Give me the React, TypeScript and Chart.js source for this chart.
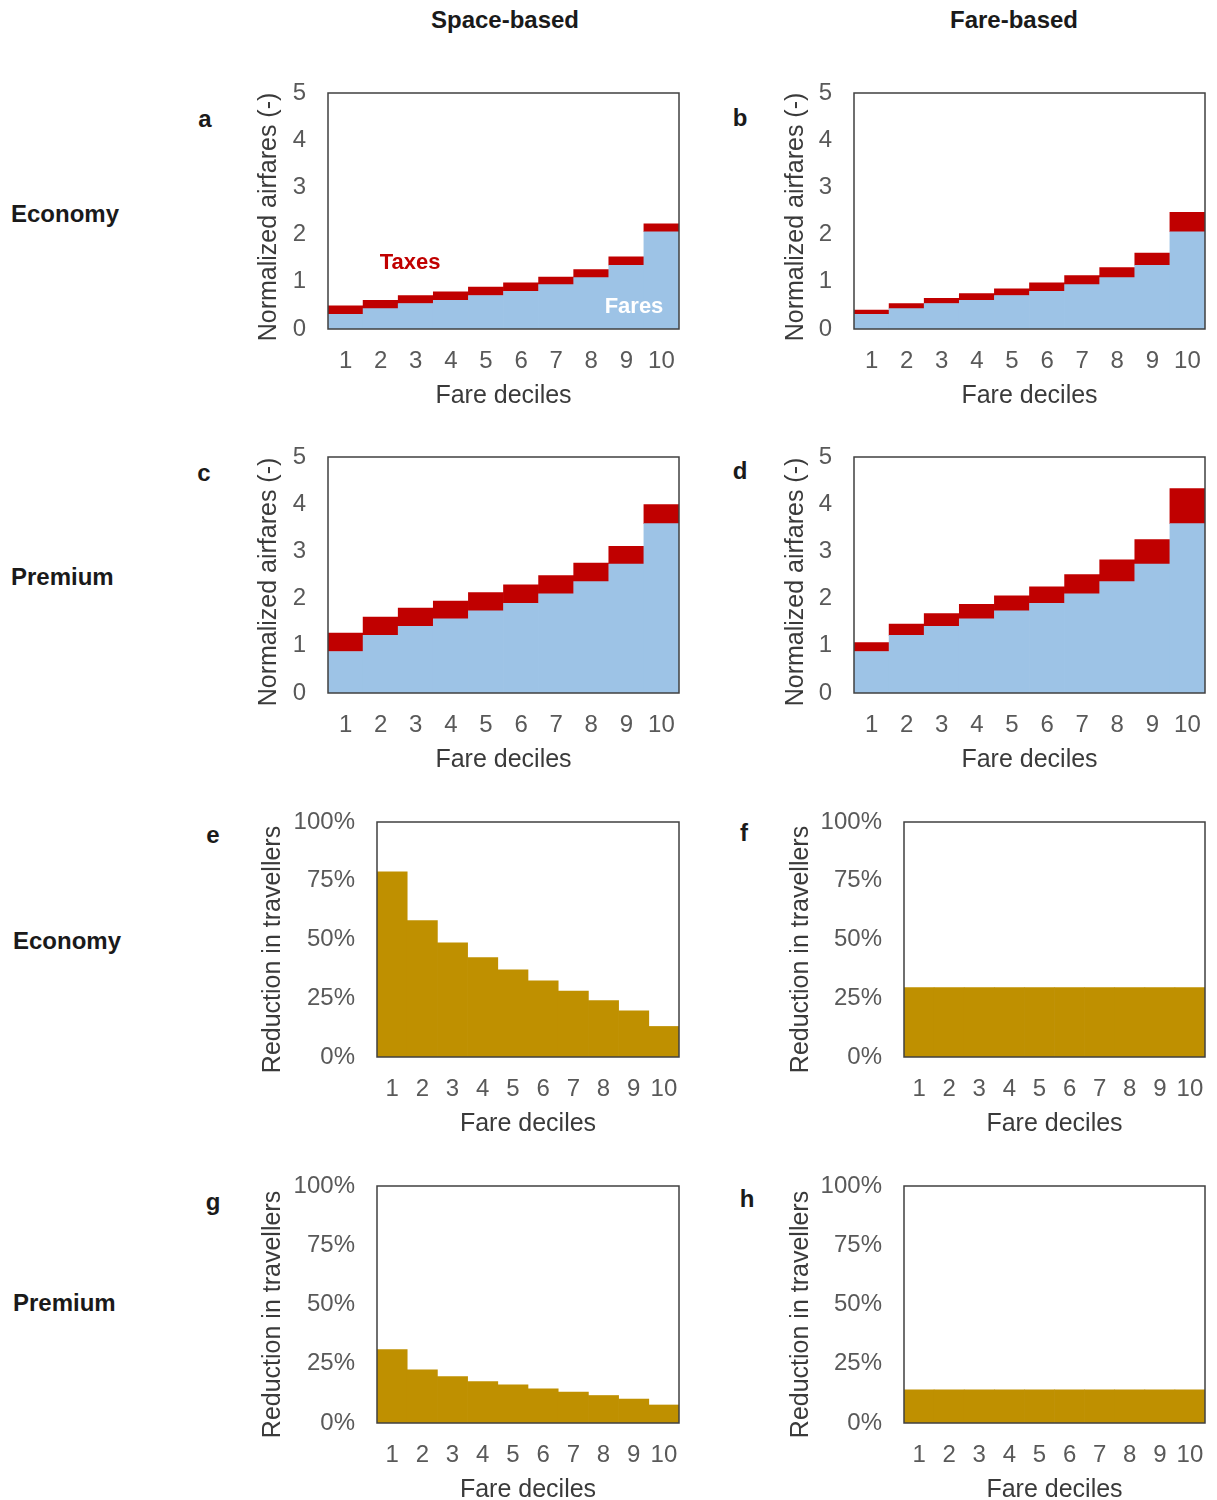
import React, { useEffect, useRef } from "react";
import { Chart, registerables } from "chart.js";

Chart.register(...registerables);
Chart.defaults.font.family = "'Liberation Sans', Arial, Helvetica, sans-serif";

// ---------- data ----------
const deciles = ["1", "2", "3", "4", "5", "6", "7", "8", "9", "10"];

const economyFares = [0.31, 0.43, 0.54, 0.61, 0.71, 0.8, 0.94, 1.09, 1.35, 2.06];
const economyTaxesSpace = [0.18, 0.18, 0.17, 0.18, 0.18, 0.18, 0.16, 0.17, 0.18, 0.17];
const economyTaxesFare = [0.09, 0.11, 0.11, 0.14, 0.14, 0.18, 0.19, 0.21, 0.26, 0.41];

const premiumFares = [0.88, 1.22, 1.41, 1.57, 1.74, 1.9, 2.1, 2.36, 2.73, 3.59];
const premiumTaxesSpace = [0.39, 0.39, 0.39, 0.38, 0.39, 0.39, 0.39, 0.39, 0.38, 0.4];
const premiumTaxesFare = [0.19, 0.24, 0.27, 0.31, 0.32, 0.35, 0.41, 0.46, 0.52, 0.74];

const reductionEconomySpace = [78.8, 58.0, 48.6, 42.3, 37.1, 32.4, 28.1, 24.0, 19.7, 13.0];
const reductionEconomyFare = [29.5, 29.5, 29.5, 29.5, 29.5, 29.5, 29.5, 29.5, 29.5, 29.5];
const reductionPremiumSpace = [31.0, 22.4, 19.6, 17.5, 16.1, 14.4, 13.0, 11.6, 10.1, 7.6];
const reductionPremiumFare = [14.0, 14.0, 14.0, 14.0, 14.0, 14.0, 14.0, 14.0, 14.0, 14.0];

const fareTicks = [0, 1, 2, 3, 4, 5];
const pctTicks = [0, 25, 50, 75, 100];

const columnHeaders = ["Space-based", "Fare-based"];
const rowLabels = ["Economy", "Premium", "Economy", "Premium"];
const fareAxisTitle = "Normalized airfares (-)";
const pctAxisTitle = "Reduction in travellers";
const xAxisTitle = "Fare deciles";

// ---------- styles ----------
const FARE_BLUE = "#9DC3E6";
const TAX_RED = "#C00000";
const GOLD = "#BF9000";
const TITLE_COLOR = "#3a3a3a";
const TICK_COLOR = "#595959";
const FONT = "'Liberation Sans', Arial, Helvetica, sans-serif";

type PanelCfg = {
  letter: string;
  kind: "fare" | "pct";
  series: { data: number[]; color: string }[];
  plot: { l: number; r: number; t: number; b: number };
  titleCx: number;
  titleDy: number;
  letterPos: [number, number];
};

const panels: PanelCfg[] = [
  {
    letter: "a", kind: "fare",
    series: [{ data: economyFares, color: FARE_BLUE }, { data: economyTaxesSpace, color: TAX_RED }],
    plot: { l: 328, r: 679, t: 93, b: 329 }, titleCx: 269, titleDy: 6, letterPos: [205, 119],
  },
  {
    letter: "b", kind: "fare",
    series: [{ data: economyFares, color: FARE_BLUE }, { data: economyTaxesFare, color: TAX_RED }],
    plot: { l: 854, r: 1205, t: 93, b: 329 }, titleCx: 796, titleDy: 6, letterPos: [740, 118],
  },
  {
    letter: "c", kind: "fare",
    series: [{ data: premiumFares, color: FARE_BLUE }, { data: premiumTaxesSpace, color: TAX_RED }],
    plot: { l: 328, r: 679, t: 457, b: 693 }, titleCx: 269, titleDy: 7, letterPos: [204, 473],
  },
  {
    letter: "d", kind: "fare",
    series: [{ data: premiumFares, color: FARE_BLUE }, { data: premiumTaxesFare, color: TAX_RED }],
    plot: { l: 854, r: 1205, t: 457, b: 693 }, titleCx: 796, titleDy: 7, letterPos: [740, 471],
  },
  {
    letter: "e", kind: "pct",
    series: [{ data: reductionEconomySpace, color: GOLD }],
    plot: { l: 377, r: 679, t: 822, b: 1057 }, titleCx: 273, titleDy: 10, letterPos: [213, 835],
  },
  {
    letter: "f", kind: "pct",
    series: [{ data: reductionEconomyFare, color: GOLD }],
    plot: { l: 904, r: 1205, t: 822, b: 1057 }, titleCx: 801, titleDy: 10, letterPos: [744, 833],
  },
  {
    letter: "g", kind: "pct",
    series: [{ data: reductionPremiumSpace, color: GOLD }],
    plot: { l: 377, r: 679, t: 1186, b: 1423 }, titleCx: 273, titleDy: 10, letterPos: [213, 1202],
  },
  {
    letter: "h", kind: "pct",
    series: [{ data: reductionPremiumFare, color: GOLD }],
    plot: { l: 904, r: 1205, t: 1186, b: 1423 }, titleCx: 801, titleDy: 10, letterPos: [747, 1199],
  },
];

const TITLE_SIZE = 25;
const TICK_SIZE = 24;
const PAD_TOP = 20;
const PAD_RIGHT = 6;
const X_AXIS_H = 82;

const frameBorder = {
  id: "frameBorder",
  afterDraw(chart: any) {
    const { ctx, chartArea } = chart;
    ctx.save();
    ctx.strokeStyle = "#404040";
    ctx.lineWidth = 1.5;
    ctx.strokeRect(chartArea.left, chartArea.top, chartArea.right - chartArea.left, chartArea.bottom - chartArea.top);
    ctx.restore();
  },
};

function Panel({ cfg }: { cfg: PanelCfg }) {
  const ref = useRef<HTMLCanvasElement>(null);
  const titleHalf = (TITLE_SIZE * 1.2) / 2;
  const left = cfg.titleCx - titleHalf;
  const top = cfg.plot.t - PAD_TOP;
  const width = cfg.plot.r + PAD_RIGHT - left;
  const height = cfg.plot.b + X_AXIS_H - top;
  const yW = cfg.plot.l - left;

  useEffect(() => {
    if (!ref.current) return;
    const isFare = cfg.kind === "fare";
    const tickValues = isFare ? fareTicks : pctTicks;
    const yTitle = isFare ? fareAxisTitle : pctAxisTitle;
    const yTitlePlugin = {
      id: "yTitle",
      afterDraw(chart: any) {
        const { ctx, chartArea } = chart;
        ctx.save();
        ctx.translate(titleHalf, (chartArea.top + chartArea.bottom) / 2 + cfg.titleDy);
        ctx.rotate(-Math.PI / 2);
        ctx.font = `${TITLE_SIZE}px ${FONT}`;
        ctx.fillStyle = TITLE_COLOR;
        ctx.textAlign = "center";
        ctx.textBaseline = "middle";
        ctx.fillText(yTitle, 0, 0);
        ctx.restore();
      },
    };
    const chart = new Chart(ref.current, {
      type: "bar",
      data: {
        labels: deciles,
        datasets: cfg.series.map((s) => ({
          data: s.data,
          backgroundColor: s.color,
          borderWidth: 0,
          barPercentage: 1,
          categoryPercentage: 1,
        })),
      },
      options: {
        responsive: false,
        animation: false,
        events: [],
        layout: { padding: { top: PAD_TOP, right: PAD_RIGHT, left: 0, bottom: 0 } },
        plugins: { legend: { display: false }, tooltip: { enabled: false } },
        scales: {
          x: {
            stacked: true,
            grid: { display: false, drawTicks: false },
            border: { display: false },
            ticks: {
              autoSkip: false,
              maxRotation: 0,
              minRotation: 0,
              padding: 18,
              color: TICK_COLOR,
              font: { size: TICK_SIZE, family: FONT },
            },
            title: {
              display: true,
              text: xAxisTitle,
              color: TITLE_COLOR,
              padding: 0,
              font: { size: TITLE_SIZE, family: FONT },
            },
            afterFit: (scale: any) => {
              scale.height = X_AXIS_H;
              scale.paddingLeft = 0;
              scale.paddingRight = 0;
            },
          },
          y: {
            stacked: true,
            min: 0,
            max: isFare ? 5 : 100,
            grid: { display: false, drawTicks: false },
            border: { display: false },
            afterBuildTicks: (scale: any) => {
              scale.ticks = tickValues.map((v) => ({ value: v }));
            },
            ticks: {
              padding: 22,
              color: TICK_COLOR,
              font: { size: TICK_SIZE, family: FONT },
              callback: (v: any) => (isFare ? String(v) : `${v}%`),
            },
            title: { display: false },
            afterFit: (scale: any) => {
              scale.width = yW;
              scale.paddingTop = 0;
              scale.paddingBottom = 0;
            },
          },
        },
      },
      plugins: [frameBorder, yTitlePlugin],
    } as any);
    return () => chart.destroy();
  }, []);

  return (
    <canvas
      ref={ref}
      width={width}
      height={height}
      style={{ position: "absolute", left, top, width, height }}
    />
  );
}

const centered = (x: number, y: number, extra: React.CSSProperties = {}): React.CSSProperties => ({
  position: "absolute",
  left: x,
  top: y,
  transform: "translate(-50%, -50%)",
  whiteSpace: "nowrap",
  fontFamily: FONT,
  ...extra,
});

export default function App() {
  const boldText: React.CSSProperties = { fontWeight: 700, fontSize: 24, color: "#1a1a1a" };
  return (
    <div
      style={{
        position: "absolute",
        left: 0,
        top: 0,
        width: 1217,
        height: 1500,
        overflow: "hidden",
        background: "#ffffff",
      }}
    >
      <div style={centered(505, 20, boldText)}>{columnHeaders[0]}</div>
      <div style={centered(1014, 20, boldText)}>{columnHeaders[1]}</div>

      {[214, 577, 941, 1303].map((y, i) => (
        <div
          key={"row" + i}
          style={{
            position: "absolute",
            left: i < 2 ? 11 : 13,
            top: y,
            transform: "translateY(-50%)",
            fontFamily: FONT,
            whiteSpace: "nowrap",
            ...boldText,
          }}
        >
          {rowLabels[i]}
        </div>
      ))}

      {panels.map((p) => (
        <Panel key={p.letter} cfg={p} />
      ))}

      {panels.map((p) => (
        <div key={"l" + p.letter} style={centered(p.letterPos[0], p.letterPos[1], { fontWeight: 700, fontSize: 24, color: "#1a1a1a" })}>
          {p.letter}
        </div>
      ))}

      <div style={centered(410, 262, { fontWeight: 700, fontSize: 22, color: TAX_RED, zIndex: 2 })}>Taxes</div>
      <div style={centered(634, 306, { fontWeight: 700, fontSize: 22, color: "#ffffff", zIndex: 2 })}>Fares</div>
    </div>
  );
}
